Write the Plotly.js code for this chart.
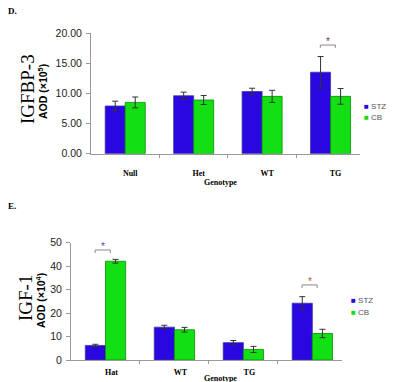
<!DOCTYPE html>
<html><head><meta charset="utf-8">
<script src="https://cdn.plot.ly/plotly-3.0.1.min.js"></script>
<style>html,body{margin:0;padding:0;background:#fff}#chart{width:412px;height:382px}</style>
</head><body><div id="chart"></div>
<script>
// ---- data ----
const seriesNames = ['STZ', 'CB'];
const seriesColors = ['#2a06e0', '#12e012'];
const seriesLines = ['#3a3a9a', '#0a8a0a'];

const catsD = ['Null', 'Het', 'WT', 'TG'];
const stzD = [7.9, 9.6, 10.3, 13.5];
const stzErrD = [0.8, 0.6, 0.55, 2.6];
const cbD = [8.5, 8.9, 9.5, 9.5];
const cbErrD = [0.9, 0.75, 1.0, 1.3];
const yTicksD = [0, 5, 10, 15, 20];

const catsE = ['Hat', 'WT', 'TG', ''];
const stzE = [6.2, 14.0, 7.4, 24.2];
const stzErrE = [0.5, 0.8, 0.9, 2.8];
const cbE = [42.1, 12.9, 4.5, 11.3];
const cbErrE = [0.8, 1.0, 1.3, 1.8];
const yTicksE = [0, 10, 20, 30, 40, 50];

const sigD = [{cat: 3, y: 18.0, color: '#6a4a2a'}];
const sigE = [{cat: 0, y: 46.9, color: '#3a5a9a'}, {cat: 3, y: 32.0, color: '#b05a20'}];

// ---- helpers ----
const W = 412, H = 382;
const px = x => x / W, py = y => 1 - y / H;
const idx = a => a.map((_, i) => i);

function bars(vals, errs, s, xa, ya) {
  return {
    type: 'bar', x: idx(vals), y: vals, name: seriesNames[s], xaxis: xa, yaxis: ya,
    marker: {color: seriesColors[s], line: {color: seriesLines[s], width: 0.8}},
    error_y: {type: 'data', array: errs, visible: true, color: '#333', thickness: 1, width: 3},
    showlegend: false
  };
}

const traces = [
  bars(stzD, stzErrD, 0, 'x', 'y'), bars(cbD, cbErrD, 1, 'x', 'y'),
  bars(stzE, stzErrE, 0, 'x2', 'y2'), bars(cbE, cbErrE, 1, 'x2', 'y2')
];

const serifBold = {family: 'Liberation Serif, Times New Roman, serif', size: 8, color: '#000'};
const axisFont = {family: 'Liberation Sans, Arial, sans-serif', size: 10.5, color: '#222'};

function xaxis(cats, domain, anchor, standoff, shift) {
  const shown = idx(cats).filter(i => cats[i] !== '');
  return {
    domain: domain, anchor: anchor, range: [-0.5, 3.43], fixedrange: true,
    tickmode: 'array', tickvals: shown, ticktext: shown.map(i => '<b>' + cats[i] + '</b>'),
    ticks: '', tickfont: serifBold, ticklabelstandoff: standoff, ticklabelshift: shift,
    showline: true, linecolor: '#999', linewidth: 1, showgrid: false, zeroline: false,
    minor: {tickmode: 'array', tickvals: [0.5, 1.5, 2.5], ticks: 'outside', ticklen: 3, tickcolor: '#999', showgrid: false}
  };
}
function yaxis(ticks, domain, anchor, fmt) {
  return {
    domain: domain, anchor: anchor, range: [0, ticks[ticks.length - 1]], fixedrange: true,
    tickmode: 'array', tickvals: ticks, tickformat: fmt, ticks: 'outside', ticklen: 4, tickcolor: '#999',
    tickfont: axisFont, ticklabelstandoff: 2,
    showline: true, linecolor: '#999', linewidth: 1, showgrid: false, zeroline: false
  };
}

const shapes = [], annotations = [];
function addSig(list, xa, ya, drop) {
  list.forEach(s => {
    const x0 = s.cat - 0.15, x1 = s.cat + 0.07;
    shapes.push({type: 'path', xref: xa, yref: ya,
      path: `M${x0},${s.y - drop} L${x0},${s.y} L${x1},${s.y} L${x1},${s.y - drop}`,
      line: {color: '#888', width: 1}});
    annotations.push({xref: xa, yref: ya, x: (x0 + x1) / 2, y: s.y, text: '*', showarrow: false,
      yanchor: 'bottom', yshift: -4, font: {family: 'Liberation Sans, Arial', size: 10, color: s.color}});
  });
}
addSig(sigD, 'x', 'y', 0.45);
addSig(sigE, 'x2', 'y2', 1.3);

function txt(x, y, text, font, opts) {
  annotations.push(Object.assign({xref: 'paper', yref: 'paper', x: px(x), y: py(y), text: text,
    showarrow: false, font: font, xanchor: 'center', yanchor: 'middle'}, opts || {}));
}
const serif = 'Liberation Serif, Times New Roman, serif';
const sans = 'Liberation Sans, Arial, sans-serif';

// panel letters
txt(6, 11, '<b>D.</b>', {family: serif, size: 9, color: '#000'}, {xanchor: 'left'});
txt(6, 206, '<b>E.</b>', {family: serif, size: 9, color: '#000'}, {xanchor: 'left'});
// y titles
txt(27, 89, 'IGFBP-3', {family: serif, size: 19, color: '#000'}, {textangle: -90});
txt(42, 92, '<b>AOD (×10<sup>5</sup>)</b>', {family: sans, size: 10.5, color: '#000'}, {textangle: -90});
txt(25, 298, 'IGF-1', {family: serif, size: 19, color: '#000'}, {textangle: -90});
txt(40, 301, '<b>AOD (×10<sup>4</sup>)</b>', {family: sans, size: 10.5, color: '#000'}, {textangle: -90});
// x titles
txt(220, 182, '<b>Genotype</b>', serifBold);
txt(220, 378, '<b>Genotype</b>', serifBold);
// legends
function legend(x, y0, dy) {
  seriesNames.forEach((n, i) => {
    txt(x, y0 + i * dy, `<span style="color:${seriesColors[i]}">■</span> ${n}`,
      {family: sans, size: 8, color: '#555'}, {xanchor: 'left'});
  });
}
legend(362, 106, 11.5);
legend(349, 300, 12);

const layout = {
  width: W, height: H, autosize: false, margin: {l: 0, r: 0, t: 0, b: 0},
  paper_bgcolor: '#fff', plot_bgcolor: 'rgba(0,0,0,0)', showlegend: false,
  barmode: 'group', bargap: 0.415, bargroupgap: 0,
  xaxis: xaxis(catsD, [px(91), px(360)], 'y', 12, 5),
  yaxis: yaxis(yTicksD, [py(153.7), py(33)], 'x', '.2f'),
  xaxis2: xaxis(catsE, [px(71), px(342)], 'y2', 4, 6),
  yaxis2: yaxis(yTicksE, [py(360), py(242.7)], 'x2', 'd'),
  shapes: shapes, annotations: annotations
};
Plotly.newPlot('chart', traces, layout, {displayModeBar: false, staticPlot: true});
</script></body></html>
